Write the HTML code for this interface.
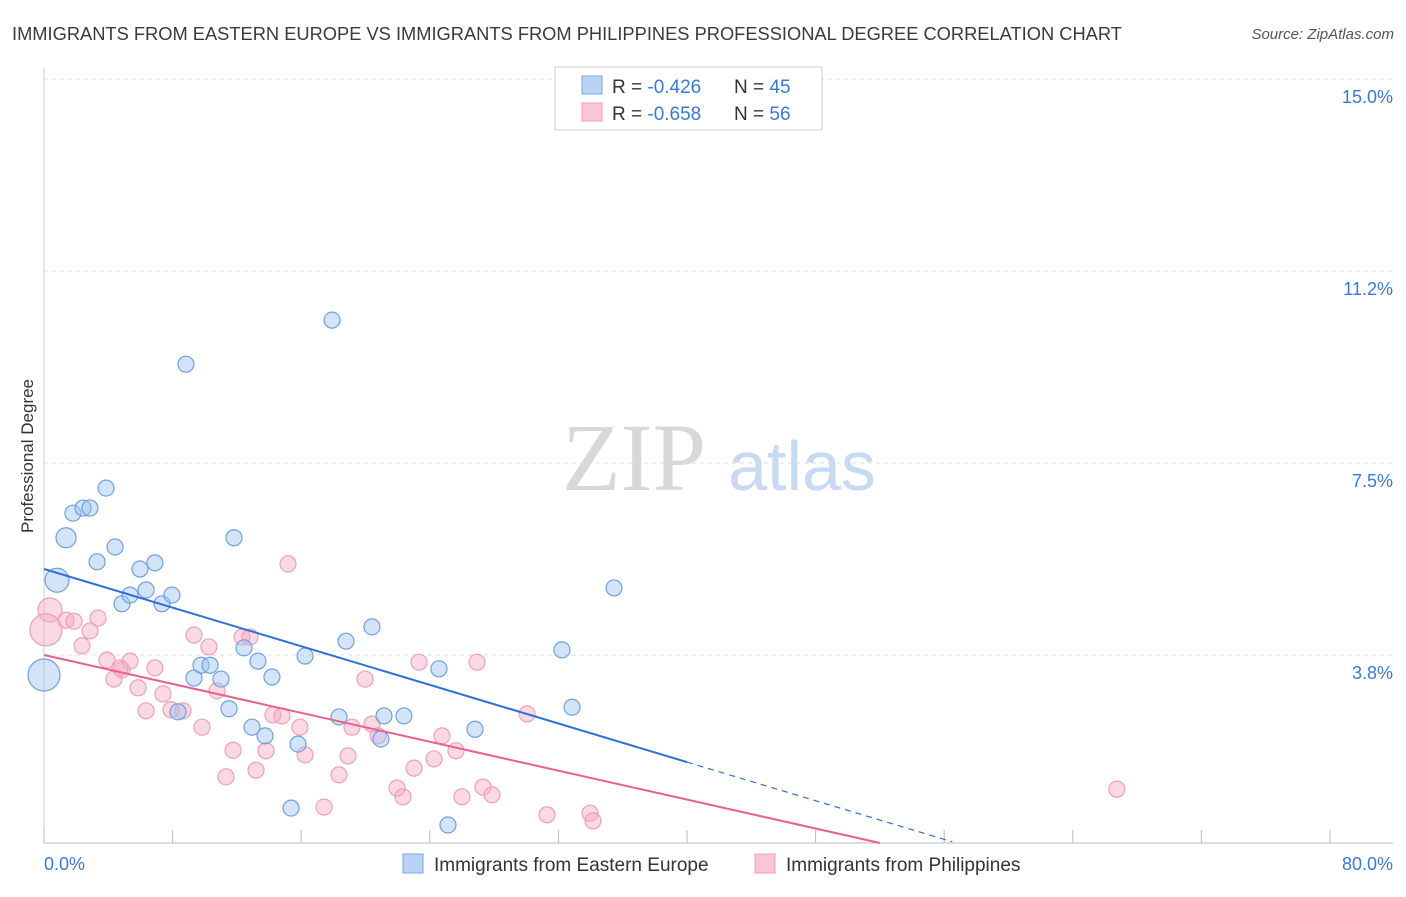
<!DOCTYPE html>
<html><head><meta charset="utf-8"><style>
body{margin:0;background:#fff;font-family:"Liberation Sans",sans-serif}
</style></head><body>
<svg id="chart" width="1406" height="892" xmlns="http://www.w3.org/2000/svg" font-family="Liberation Sans, sans-serif">
<text x="12" y="40" font-size="18.3" fill="#3a3a3a">IMMIGRANTS FROM EASTERN EUROPE VS IMMIGRANTS FROM PHILIPPINES PROFESSIONAL DEGREE CORRELATION CHART</text>
<text x="1394" y="39" font-size="15" fill="#555" font-style="italic" text-anchor="end">Source: ZipAtlas.com</text>
<text transform="translate(33,456) rotate(-90)" font-size="17" fill="#333" text-anchor="middle">Professional Degree</text>
<g>
<text x="634" y="490" font-size="96" font-family="Liberation Serif, serif" fill="#d8d8d8" text-anchor="middle">ZIP</text>
<text x="802" y="490" font-size="70" fill="#c8daf2" text-anchor="middle">atlas</text>
</g>
<g id="grid"></g><g id="axes"></g><g id="marks"></g>
<g>
<rect x="555" y="67" width="267" height="63" fill="#fff" stroke="#ccc"/>
<rect x="582" y="76" width="20" height="18" fill="#b9d3f5" stroke="#7aa8e6"/>
<rect x="582" y="103" width="20" height="18" fill="#f9c6d4" stroke="#eea0b8"/>
<text x="612" y="93" font-size="19" fill="#333">R = <tspan fill="#3a78d8">-0.426</tspan></text>
<text x="734" y="93" font-size="19" fill="#333">N = <tspan fill="#3a78d8">45</tspan></text>
<text x="612" y="120" font-size="19" fill="#333">R = <tspan fill="#3a78d8">-0.658</tspan></text>
<text x="734" y="120" font-size="19" fill="#333">N = <tspan fill="#3a78d8">56</tspan></text>
</g>
<g>
<rect x="403" y="854" width="20" height="19" fill="#b9d3f5" stroke="#7aa8e6"/>
<text x="434" y="871" font-size="19" fill="#333">Immigrants from Eastern Europe</text>
<rect x="755" y="854" width="20" height="19" fill="#f9c6d4" stroke="#eea0b8"/>
<text x="786" y="871" font-size="19" fill="#333">Immigrants from Philippines</text>
</g>
</svg>
<script>
const blueX=[0.0,0.81,1.37,1.80,2.43,2.86,3.86,3.30,4.42,4.85,5.35,5.97,6.35,6.90,7.34,7.96,8.83,8.34,9.33,9.77,10.33,11.01,11.51,11.82,12.44,12.94,13.31,13.75,14.18,15.37,15.80,16.24,17.92,18.35,18.79,20.40,20.96,21.15,22.39,24.57,25.13,26.81,32.22,32.85,35.46];
const blueY=[3.36,5.21,6.04,6.52,6.62,6.62,7.01,5.57,5.86,4.75,4.92,5.43,5.02,5.55,4.75,4.92,9.43,2.64,3.30,3.55,3.55,3.28,2.70,6.04,3.89,2.34,3.63,2.17,3.32,0.76,2.01,3.73,10.29,2.54,4.02,4.30,2.11,2.56,2.56,3.48,0.43,2.30,3.85,2.73,5.06];
const blueR=[16,12,10,8,8,8,8,8,8,8,8,8,8,8,8,8,8,8,8,8,8,8,8,8,8,8,8,8,8,8,8,8,8,8,8,8,8,8,8,8,8,8,8,8,8];
const pinkX=[0.37,0.12,1.37,1.87,2.36,2.86,3.36,3.92,4.35,4.85,5.35,5.85,6.35,6.90,7.40,7.90,8.65,9.33,9.83,10.26,10.76,11.32,11.76,12.32,12.81,13.19,13.81,14.24,14.80,15.18,15.92,16.24,17.42,18.35,18.91,19.16,19.97,20.40,20.78,21.96,22.33,23.02,23.33,24.26,24.76,25.63,26.00,26.94,27.31,27.87,30.05,31.29,33.97,34.15,66.74,4.72];
const pinkY=[4.63,4.24,4.43,4.41,3.93,4.22,4.47,3.65,3.28,3.46,3.63,3.11,2.66,3.50,2.99,2.68,2.66,4.14,2.34,3.91,3.05,1.37,1.89,4.10,4.10,1.50,1.88,2.58,2.56,5.53,2.34,1.80,0.78,1.41,1.78,2.34,3.28,2.40,2.17,1.15,0.98,1.54,3.61,1.72,2.17,1.88,0.98,3.61,1.17,1.02,2.60,0.63,0.66,0.51,1.13,3.50];
const pinkR=[12,16,8,8,8,8,8,8,8,8,8,8,8,8,8,8,8,8,8,8,8,8,8,8,8,8,8,8,8,8,8,8,8,8,8,8,8,8,8,8,8,8,8,8,8,8,8,8,8,8,8,8,8,8,8,8];
const yTicks=[3.75,7.5,11.25,15];
const yTickLabels=["3.8%","7.5%","11.2%","15.0%"];
const xTicks=[0,8,16,24,32,40,48,56,64,72,80];
const blueTrend={intercept:5.43,slope:-0.0943,solidEnd:40,dashEnd:56.5};
const pinkTrend={intercept:3.75,slope:-0.0706,end:52.0};
const NS='http://www.w3.org/2000/svg';
const sx=v=>44+v/80*1286, sy=v=>847-v*51.2;
function mk(p,t,a){const e=document.createElementNS(NS,t);for(const k in a)e.setAttribute(k,a[k]);p.appendChild(e);return e;}
const grid=document.getElementById('grid'),axes=document.getElementById('axes'),marks=document.getElementById('marks');
yTicks.forEach((v,i)=>{
 const l=mk(grid,'line',{x1:44,x2:1393,y1:sy(v),y2:sy(v),stroke:'#ddd','stroke-dasharray':'4,4'});
 
 
 const t=mk(axes,'text',{x:1393,y:sy(v)+24,'font-size':18,fill:'#3a78d8','text-anchor':'end'});
 t.textContent=yTickLabels[i];
 
 
});
const ax=mk(axes,'line',{x1:44,x2:1393,y1:843,y2:843,stroke:'#bbb'});


const ay=mk(axes,'line',{x1:44,x2:44,y1:68,y2:843,stroke:'#ccc'});


xTicks.forEach(v=>{const l=mk(axes,'line',{x1:sx(v),x2:sx(v),y1:830,y2:843,stroke:'#bbb'});
 
 });
const x0=mk(axes,'text',{x:44,y:870,'font-size':18,fill:'#3a78d8'});x0.textContent='0.0%';


const x1=mk(axes,'text',{x:1393,y:870,'font-size':18,fill:'#3a78d8','text-anchor':'end'});x1.textContent='80.0%';


pinkX.forEach((v,i)=>{const c=mk(marks,'circle',{cx:sx(v),cy:sy(pinkY[i]),r:pinkR[i],fill:'rgba(245,170,195,0.45)',stroke:'#eea0b8','stroke-width':1.2});
 
 });
blueX.forEach((v,i)=>{const c=mk(marks,'circle',{cx:sx(v),cy:sy(blueY[i]),r:blueR[i],fill:'rgba(160,195,240,0.45)',stroke:'#6fa0e2','stroke-width':1.2});
 
 });
const bt=blueTrend;
const b1=mk(marks,'line',{x1:sx(0),y1:sy(bt.intercept),x2:sx(bt.solidEnd),y2:sy(bt.intercept+bt.slope*bt.solidEnd),stroke:'#2f6fd6','stroke-width':2});


const b2=mk(marks,'line',{x1:sx(bt.solidEnd),y1:sy(bt.intercept+bt.slope*bt.solidEnd),x2:sx(bt.dashEnd),y2:sy(bt.intercept+bt.slope*bt.dashEnd),stroke:'#2f6fd6','stroke-width':1.2,'stroke-dasharray':'6,5'});


const pt=pinkTrend;
const p1=mk(marks,'line',{x1:sx(0),y1:sy(pt.intercept),x2:sx(pt.end),y2:sy(pt.intercept+pt.slope*pt.end),stroke:'#e8608f','stroke-width':2});


</script>
</body></html>
